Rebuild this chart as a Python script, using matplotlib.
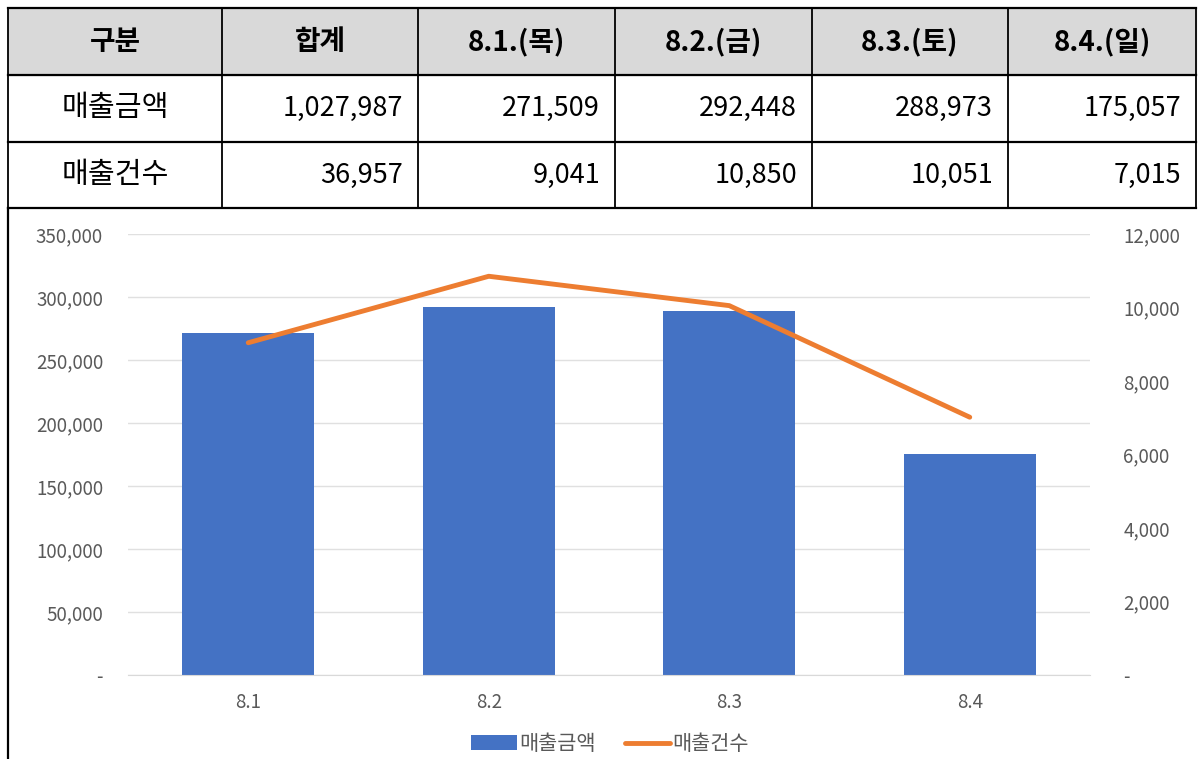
import matplotlib
matplotlib.use("Agg")
import matplotlib.pyplot as plt
import numpy as np
from matplotlib.ticker import FuncFormatter

plt.rcParams['font.family'] = ['Noto Sans CJK KR', 'DejaVu Sans']

# -------------------------------------------
# Data
# -------------------------------------------
header = ['구분', '합계', '8.1.(목)', '8.2.(금)', '8.3.(토)', '8.4.(일)']
row_names = ['매출금액', '매출건수']
sales_total = [1027987, 36957]
days = ['8.1', '8.2', '8.3', '8.4']
sales_amount = [271509, 292448, 288973, 175057]
sales_count = [9041, 10850, 10051, 7015]

W, H = 1198, 759
fig = plt.figure(figsize=(W / 100, H / 100), dpi=100)

# -------------------------------------------
# Table drawn in pixel coordinates
# -------------------------------------------
tab = fig.add_axes([0, 0, 1, 1])
tab.set_xlim(0, W)
tab.set_ylim(H, 0)
tab.axis('off')

col_x = [8, 222, 418, 615, 812, 1008, 1196]
row_y = [8, 75, 142, 208]

tab.fill_between([col_x[0], col_x[-1]], row_y[0], row_y[1], color='#d9d9d9', zorder=0)
for y in row_y:
    tab.plot([col_x[0], col_x[-1]], [y, y], color='black', lw=1.6, zorder=2)
for x in col_x:
    tab.plot([x, x], [row_y[0], row_y[-1]], color='black', lw=1.3, zorder=2)
# left border running down along the chart
tab.plot([col_x[0], col_x[0]], [row_y[-1], H], color='black', lw=1.6, zorder=2)

for i, name in enumerate(header):
    tab.text((col_x[i] + col_x[i + 1]) / 2, (row_y[0] + row_y[1]) / 2, name,
             ha='center', va='center', fontsize=20, fontweight='bold')

rows = [[sales_total[0]] + sales_amount, [sales_total[1]] + sales_count]
for r, name in enumerate(row_names):
    yc = (row_y[r + 1] + row_y[r + 2]) / 2
    tab.text((col_x[0] + col_x[1]) / 2, yc, name, ha='center', va='center',
             fontsize=21)
    for c, v in enumerate(rows[r]):
        tab.text(col_x[c + 2] - 15, yc, f'{v:,}', ha='right', va='center',
                 fontsize=19.5)

# -------------------------------------------
# Combo chart
# -------------------------------------------
left, right = 128 / W, 1090 / W
bottom, top = (H - 675) / H, (H - 234) / H
ax = fig.add_axes([left, bottom, right - left, top - bottom])
ax2 = ax.twinx()

x = np.arange(len(days))
bars = ax.bar(x, sales_amount, width=0.55, color='#4472c4', zorder=2, label='매출금액')
line, = ax2.plot(x, sales_count, color='#ed7d31', lw=3.5, solid_capstyle='round',
                 label='매출건수', zorder=3)

ax.set_xlim(-0.5, len(days) - 0.5)
ax.set_ylim(0, 350000)
ax.set_yticks(np.arange(0, 350001, 50000))
ax2.set_ylim(0, 12000)
ax2.set_yticks(np.arange(0, 12001, 2000))

fmt = FuncFormatter(lambda v, p: '-' if v == 0 else f'{int(v):,}')
ax.yaxis.set_major_formatter(fmt)
ax2.yaxis.set_major_formatter(fmt)

ax.set_xticks(x)
ax.set_xticklabels(days)
ax.grid(axis='y', color='#e0e0e0', lw=1.0, zorder=0)
ax.set_axisbelow(True)
ax.set_zorder(ax2.get_zorder() - 1)
ax2.patch.set_visible(False)

for a in (ax, ax2):
    for s in a.spines.values():
        s.set_visible(False)
    a.tick_params(length=0, colors='#595959', labelsize=13.5)
ax.tick_params(axis='y', pad=18)
ax.tick_params(axis='x', pad=12)
ax2.tick_params(axis='y', pad=24)
ax.spines['bottom'].set_visible(True)
ax.spines['bottom'].set_color('#d9d9d9')

fig.legend(handles=[bars, line], loc='center', ncol=2, frameon=False,
           bbox_to_anchor=(610 / W, 1 - 744 / H), fontsize=15,
           labelcolor='#595959', handlelength=2.2, handletextpad=0.1,
           columnspacing=1.4, borderpad=0.1)

fig.savefig('out.png', dpi=100)
